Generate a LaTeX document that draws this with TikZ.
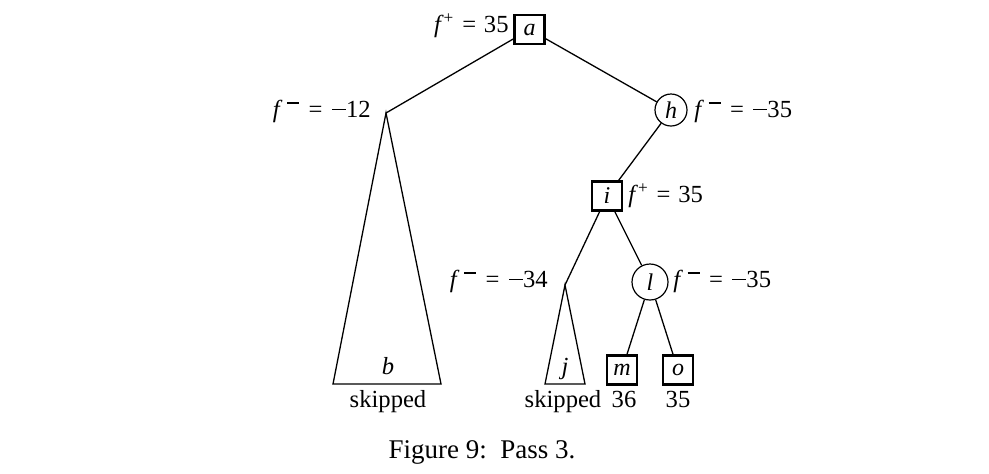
\documentclass[tikz,border=0pt]{standalone}
\usepackage{fontspec}
\setmainfont{Liberation Serif}
\newcommand{\fplus}{\textit{f}\textsuperscript{+}}
\newcommand{\fminus}{\textit{f}\hspace{2.3pt}\raisebox{1.15ex}{\rule{6pt}{0.95pt}}\hspace{0.8pt}}
\newcommand{\mns}{\hspace{0.8pt}\rule[0.27em]{7pt}{0.95pt}}
\newcommand{\eqs}{\hspace{0.32em}=\hspace{0.32em}}
\begin{document}
\begin{tikzpicture}[x=0.5pt,y=-0.5pt,
  sq/.style={draw,line width=1.1pt,minimum width=15pt,minimum height=14.5pt,inner sep=0pt},
  circ/.style={draw,circle,line width=0.6pt,inner sep=0pt},
  edge/.style={line width=0.65pt},
  lab/.style={inner sep=0pt,font=\fontsize{12.3}{14}\selectfont}]
\useasboundingbox (0,0) rectangle (989,473);
\begin{scope}[every node/.append style={font=\fontsize{12}{14}\selectfont}]
% nodes
\node[sq] (a) at (529.5,29.5) {\textit{a}};
\coordinate (b) at (386,113);
\node[circ,minimum size=16pt] (h) at (671,110) {\textit{h}};
\node[sq] (i) at (607,196) {\textit{i}};
\coordinate (j) at (565,285);
\node[circ,minimum size=18pt] (l) at (650,282) {\textit{l}};
\node[sq] (m) at (622,370) {\textit{m}};
\node[sq] (o) at (678,370) {\textit{o}};
\coordinate (bl) at (333,384);
\coordinate (br) at (441,384);
\coordinate (jl) at (545,384);
\coordinate (jr) at (585,384);
% edges
\draw[edge] (a) -- (b);
\draw[edge] (a) -- (h);
\draw[edge] (h) -- (i);
\draw[edge] (i) -- (j);
\draw[edge] (i) -- (l);
\draw[edge] (l) -- (m);
\draw[edge] (l) -- (o);
% triangles
\draw[edge] (b) -- (bl) -- (br) -- cycle;
\draw[edge] (j) -- (jl) -- (jr) -- cycle;
% labels
\node[lab,anchor=east] (la) at (509,26) {\fplus\eqs 35};
\node[lab,anchor=east] (lb) at (371,111) {\fminus\eqs\mns12};
\node[lab,anchor=west] (lh) at (694,111) {\fminus\eqs\mns35};
\node[lab,anchor=west] (li) at (628,196) {\fplus\eqs 35};
\node[lab,anchor=east] (lj) at (548,281) {\fminus\eqs\mns34};
\node[lab,anchor=west] (ll) at (673,281) {\fminus\eqs\mns35};
\node[lab,anchor=base] (tb) at (388,374) {\textit{b}};
\node[lab,anchor=base] (tj) at (565,374) {\textit{j}};
\node[lab,anchor=base] (sb) at (388,407) {skipped};
\node[lab,anchor=base] (sj) at (563,407) {skipped};
\node[lab,anchor=base] (vm) at (624,407) {36};
\node[lab,anchor=base] (vo) at (678,407) {35};
\node[inner sep=0pt,font=\fontsize{13.5}{16}\selectfont] (cap) at (482,452) {Figure 9:\hspace{0.5em}Pass 3.};
\end{scope}
\end{tikzpicture}
\end{document}
